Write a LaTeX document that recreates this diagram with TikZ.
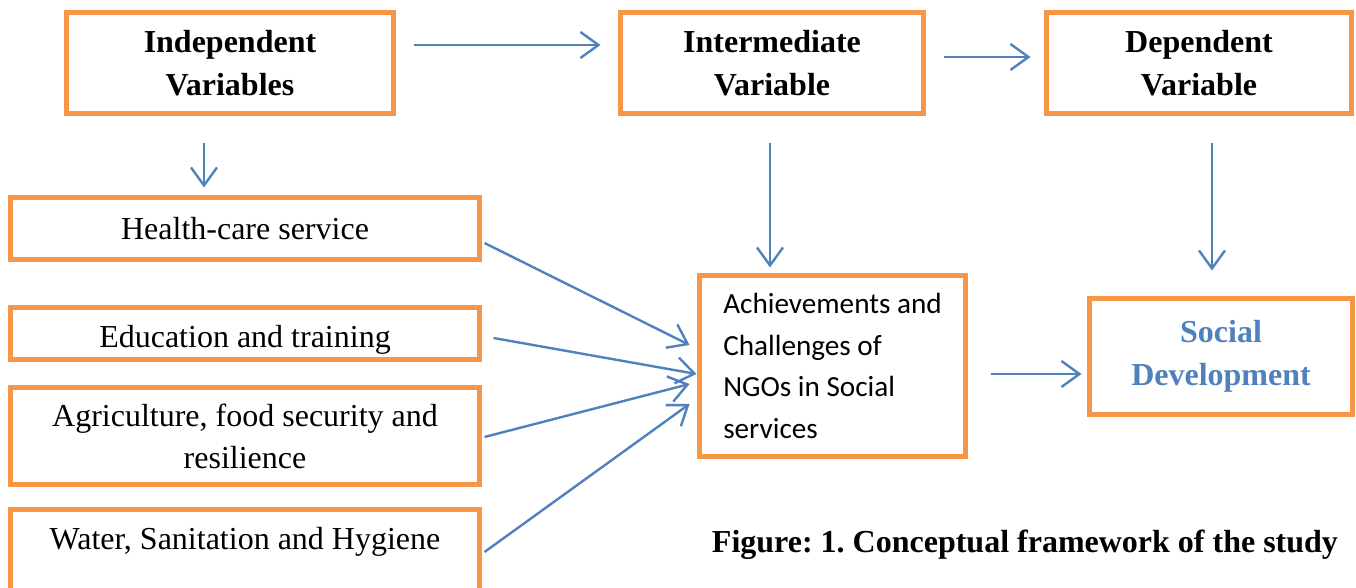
\documentclass[tikz,border=0pt]{standalone}
\usepackage{fontspec}
\setmainfont{Liberation Serif}
\newfontfamily\calibri{Carlito}
\usepackage{tikz}
\usetikzlibrary{arrows.meta}
\definecolor{boxorange}{HTML}{F79646}
\definecolor{linkblue}{HTML}{4F81BD}
\frenchspacing

\begin{document}
\begin{tikzpicture}[x=0.5pt,y=-0.5pt,
  box/.style={draw=boxorange, line width=2.5pt, align=center,
              font=\fontsize{16pt}{21pt}\selectfont},
  head/.style={box, minimum height=50.5pt,
               font=\fontsize{16pt}{21.5pt}\selectfont\bfseries},
  item/.style={box, minimum width=234.5pt},
  link/.style={draw=linkblue, line width=1.2pt,
               -{Straight Barb[length=9pt,width=13pt]}}]

 \useasboundingbox (0,0) rectangle (1356,588);

 \node[head, minimum width=163.5pt] (indep)  at (230,63)  {Independent\\Variables};
 \node[head, minimum width=151.5pt] (interm) at (772,63)  {Intermediate\\Variable};
 \node[head, minimum width=152.5pt] (dep)    at (1199,63) {Dependent\\Variable};

 \node[item, minimum height=31pt] (health) at (245,228.5) {Health-care service};
 \node[item, minimum height=26pt, inner ysep=0pt, text height=17pt] (edu) at (245,333.5) {Education and training};
 \node[item, minimum height=48.5pt] (agri) at (245,436) {Agriculture, food security and\\resilience};
 \node[item, minimum height=50pt, text depth=21.5pt] (water) at (245,559.5) {Water, Sanitation and Hygiene};

 \node[box, minimum width=133pt, minimum height=90.5pt, align=left,
       font=\calibri\fontsize{14.6pt}{20.75pt}\selectfont] (ngo) at (832.5,366)
   {Achievements and\\Challenges of\\NGOs in Social\\services};
 \node[head, minimum width=131.5pt, minimum height=58pt, text=linkblue] (social) at (1221,356.5)
   {Social\\Development};

 \node[font=\fontsize{16pt}{21pt}\selectfont\bfseries] (caption) at (1025,545)
   {Figure: 1. Conceptual framework of the study};

 \draw[link] ([xshift=8.75pt,yshift=9pt]indep.east) -- ([xshift=-8.75pt,yshift=9pt]interm.west);
 \draw[link] ([xshift=8.75pt,yshift=3pt]interm.east) -- ([xshift=-6.75pt,yshift=3pt]dep.west);

 \draw[link] ([xshift=-13pt,yshift=-13.75pt]indep.south) -- ++(0,-22pt);
 \draw[link] ([xshift=-1pt,yshift=-13.75pt]interm.south) -- ++(0,-62pt);
 \draw[link] ([xshift=6.5pt,yshift=-13.75pt]dep.south) -- ++(0,-63.5pt);

 \draw[link] ([xshift=1.25pt,yshift=-7.25pt]health.east) -- ([xshift=-3.75pt,yshift=10.5pt]ngo.west);
 \draw[link] ([xshift=5.75pt,yshift=-2.25pt]edu.east) -- ([xshift=-0.25pt,yshift=-4pt]ngo.west);
 \draw[link] ([xshift=1.25pt,yshift=-0.5pt]agri.east) -- ([xshift=-3.75pt,yshift=-9pt]ngo.west);
 \draw[link] ([xshift=1.25pt,yshift=3.75pt]water.east) -- ([xshift=-3.75pt,yshift=-19pt]ngo.west);

 \draw[link] ([xshift=11.25pt,yshift=-4pt]ngo.east) -- ++(45.5pt,0);
\end{tikzpicture}
\end{document}
